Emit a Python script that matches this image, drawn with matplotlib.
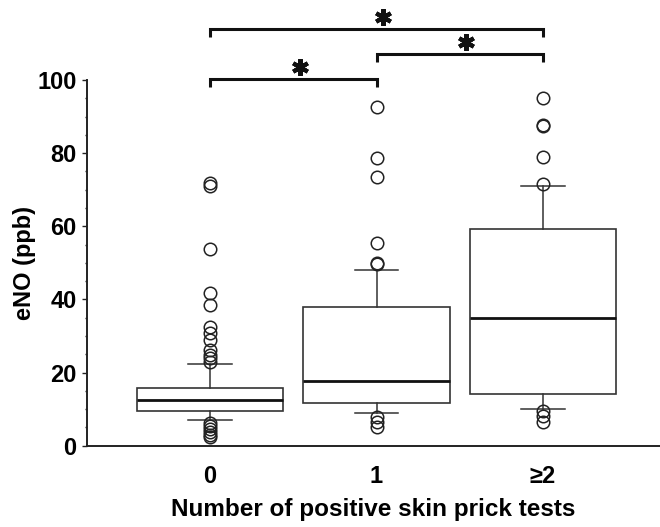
import matplotlib
matplotlib.use("Agg")
import matplotlib.pyplot as plt
from matplotlib.ticker import MultipleLocator

plt.rcParams['font.family'] = ['Liberation Sans', 'DejaVu Sans']

categories = ["0", "1", "\u22652"]
q1 = [9.4, 11.8, 14.1]
med = [12.6, 17.7, 34.9]
q3 = [15.8, 37.8, 59.2]
whislo = [6.9, 8.9, 9.9]
whishi = [22.3, 48.1, 71.1]
fliers = [
    [71.8, 71.0, 53.7, 41.7, 38.5, 32.5, 30.7, 28.9, 26.2, 24.8, 23.9, 23.0,
     6.3, 5.5, 4.5, 3.7, 3.0, 2.4],
    [92.5, 78.6, 73.4, 55.5, 50.0, 49.7, 7.9, 6.6, 5.2],
    [95.0, 87.7, 87.5, 79.0, 71.6, 9.5, 8.1, 6.6],
]
# significance brackets: (group a, group b, height, drop)
brackets = [(0, 2, 113.9, 2.1), (1, 2, 107.1, 2.1), (0, 1, 100.3, 2.3)]

fig = plt.figure(figsize=(6.6, 5.27), dpi=100)
ax = fig.add_axes([87/660, (527-445.7)/527, 573/660, (445.7-80)/527])

positions = [1, 2, 3]
stats = []
for i in range(3):
    stats.append(dict(med=med[i], q1=q1[i], q3=q3[i], whislo=whislo[i],
                      whishi=whishi[i], fliers=fliers[i], label=categories[i]))

ax.bxp(stats, positions=positions, widths=0.877, capwidths=0.26,
       patch_artist=True,
       boxprops=dict(facecolor='white', edgecolor='#333333', linewidth=1.2),
       medianprops=dict(color='#111111', linewidth=2.0),
       whiskerprops=dict(color='#333333', linewidth=1.1),
       capprops=dict(color='#333333', linewidth=1.1),
       flierprops=dict(marker='o', markerfacecolor='none', markeredgecolor='#222222',
                       markersize=9, markeredgewidth=1.1, linestyle='none'))
for line in ax.lines:
    line.set_clip_on(False)

ax.set_xlim(1 - 123/166.5, 3 + 117/166.5)
ax.set_ylim(0, 100)
ax.spines['top'].set_visible(False)
ax.spines['right'].set_visible(False)
for s in ['left', 'bottom']:
    ax.spines[s].set_color('#222222')
    ax.spines[s].set_linewidth(1.4)

ax.yaxis.set_major_locator(MultipleLocator(20))
ax.yaxis.set_minor_locator(MultipleLocator(5))
ax.tick_params(axis='y', which='major', length=3.4, width=1, color='#222222',
               labelsize=17, pad=4)
ax.tick_params(axis='y', which='minor', length=1.8, width=1, color='#222222')
ax.set_xticks(positions)
ax.set_xticklabels(categories)
ax.tick_params(axis='x', length=0, labelsize=17, pad=14)
for lab in ax.get_xticklabels() + ax.get_yticklabels():
    lab.set_fontweight('bold')

ax.set_xlabel("Number of positive skin prick tests", fontsize=17.5, fontweight='bold',
              labelpad=7)
ax.set_ylabel("eNO (ppb)", fontsize=17, fontweight='bold', labelpad=1)

for k, (a, b, h, d) in enumerate(brackets):
    xa, xb = positions[a], positions[b]
    ax.plot([xa, xa, xb, xb], [h - d, h, h, h - d], color='#111111', linewidth=2.2,
            clip_on=False, solid_capstyle='butt', solid_joinstyle='miter')
    ax.plot([(xa + xb) / 2 + 0.04], [h + 3.2], marker=(6, 2, 0), markersize=12,
            markeredgewidth=3.0, color='#111111', clip_on=False, linestyle='none')

fig.savefig("out.png", dpi=100)
